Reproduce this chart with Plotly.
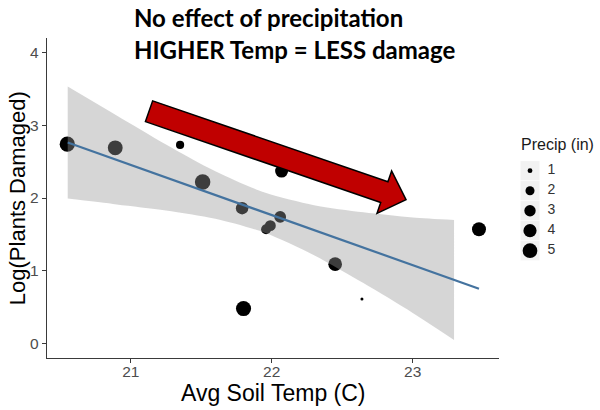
import numpy as np
import plotly.graph_objects as go

# Observations: average soil temperature, log plants damaged, precipitation
soil_temp = [20.55, 20.89, 21.35, 21.51, 21.79, 22.07, 22.06, 21.99, 21.96, 21.80, 22.45, 22.64, 23.47]
log_damaged = [2.74, 2.69, 2.73, 2.22, 1.86, 2.37, 1.74, 1.62, 1.57, 0.48, 1.09, 0.61, 1.57]
precip_in = [5.4, 5.1, 1.7, 5.6, 3.6, 3.9, 3.2, 2.8, 2.4, 5.3, 4.3, 0.9, 4.5]

# Linear fit and its confidence band
fit_temp = [20.553, 23.47]
fit_log = [2.762, 0.753]
band_temp = [20.553, 20.9, 21.25, 21.6, 21.95, 22.3, 22.65, 23.0, 23.293]
band_upper = [3.532, 3.134, 2.735, 2.367, 2.075, 1.902, 1.804, 1.732, 1.699]
band_lower = [1.992, 1.912, 1.829, 1.715, 1.523, 1.214, 0.830, 0.420, 0.049]

# Size legend
legend_breaks = [1, 2, 3, 4, 5]

x_ticks = [21, 22, 23]
y_ticks = [0, 1, 2, 3, 4]

D_MIN, D_MAX = 3.0, 15.5
p_lo, p_hi = min(precip_in), max(precip_in)


def marker_px(v):
    v = np.asarray(v, dtype=float)
    return D_MIN + (D_MAX - D_MIN) * np.sqrt((v - p_lo) / (p_hi - p_lo))


AXIS_COLOR = "#3a3a3a"
SANS = "Liberation Sans, Arial, sans-serif"
TICK_FONT = dict(family=SANS, size=15.5, color="#4d4d4d")
TITLE_FONT = dict(family=SANS, size=23, color="#000000")

fig = go.Figure()

# points
fig.add_trace(go.Scatter(
    x=soil_temp, y=log_damaged, mode="markers",
    marker=dict(size=marker_px(precip_in), color="black", opacity=1, line=dict(width=0)),
    showlegend=False, hoverinfo="skip", cliponaxis=False,
))

# confidence band (drawn over the points)
fig.add_trace(go.Scatter(
    x=band_temp, y=band_lower, mode="lines",
    line=dict(width=0, shape="spline", smoothing=0.8),
    showlegend=False, hoverinfo="skip",
))
fig.add_trace(go.Scatter(
    x=band_temp, y=band_upper, mode="lines", fill="tonexty",
    fillcolor="rgba(153,153,153,0.4)",
    line=dict(width=0, shape="spline", smoothing=0.8),
    showlegend=False, hoverinfo="skip",
))

# fitted line
fig.add_trace(go.Scatter(
    x=fit_temp, y=fit_log, mode="lines",
    line=dict(color="#44739f", width=2.2),
    showlegend=False, hoverinfo="skip",
))

# size legend on its own small axes
fig.add_trace(go.Scatter(
    x=[18] * len(legend_breaks), y=legend_breaks, mode="markers",
    marker=dict(size=marker_px(legend_breaks), color="black", opacity=1, line=dict(width=0)),
    xaxis="x2", yaxis="y2", showlegend=False, hoverinfo="skip", cliponaxis=False,
))
fig.add_trace(go.Scatter(
    x=[35.5] * len(legend_breaks), y=legend_breaks, mode="text",
    text=[str(b) for b in legend_breaks], textposition="middle right",
    textfont=dict(family=SANS, size=14, color="#333333"),
    xaxis="x2", yaxis="y2", showlegend=False, hoverinfo="skip", cliponaxis=False,
))

shapes = []
for b in legend_breaks:
    shapes.append(dict(type="rect", xref="x2", yref="y2", x0=8.5, x1=27.5,
                       y0=b - 0.48, y1=b + 0.48, fillcolor="#f2f2f2",
                       line=dict(width=0), layer="below"))

# red arrow overlay
arrow = [(21.1553, 3.3356), (22.8241, 2.2233), (22.8504, 2.3726), (22.9525, 1.9781),
         (22.7468, 1.7890), (22.7730, 1.9384), (21.1043, 3.0507)]
path = "M " + " L ".join(f"{x},{y}" for x, y in arrow) + " Z"
shapes.append(dict(type="path", xref="x", yref="y", path=path,
                   fillcolor="#c00000", line=dict(color="black", width=1.5),
                   layer="above"))

HEAD_FONT = dict(family="Lato, sans-serif", size=24, color="black")
annotations = [
    dict(text="<b>No effect of precipitation</b>", xref="paper", yref="paper",
         x=0.1537, y=1.0634, xanchor="left", yanchor="middle", showarrow=False,
         font=HEAD_FONT),
    dict(text="<b>HIGHER Temp = LESS damage</b>", xref="paper", yref="paper",
         x=0.1537, y=0.9634, xanchor="left", yanchor="middle", showarrow=False,
         font=HEAD_FONT),
    dict(text="Avg Soil Temp (C)", xref="x domain", yref="y domain",
         x=0.5, y=-0.108, xanchor="center", yanchor="middle", showarrow=False,
         font=TITLE_FONT),
    dict(text="Log(Plants Damaged)", xref="x domain", yref="y domain",
         x=-0.066, y=0.5, xanchor="center", yanchor="middle", showarrow=False,
         textangle=-90, font=dict(family=SANS, size=22, color="#000000")),
    dict(text="Precip (in)", xref="x2", yref="y2", x=6.5, y=-0.3,
         xanchor="left", yanchor="middle", showarrow=False,
         font=dict(family=SANS, size=16, color="#1a1a1a")),
]

plot_w = 600 - 47
fig.update_layout(
    width=600, height=410, autosize=False,
    margin=dict(l=47, r=0, t=38, b=52, pad=0),
    paper_bgcolor="white", plot_bgcolor="white",
    shapes=shapes, annotations=annotations,
    xaxis=dict(domain=[0, 452 / plot_w], range=[20.406, 23.612],
               tickvals=x_ticks, ticks="outside", ticklen=4, tickwidth=1.2,
               tickcolor=AXIS_COLOR, showline=True, linecolor=AXIS_COLOR, linewidth=1.4,
               showgrid=False, zeroline=False, tickfont=TICK_FONT,
               ticklabelstandoff=-5),
    yaxis=dict(domain=[0, 1], range=[-0.2, 4.2], tickvals=y_ticks,
               ticks="outside", ticklen=4, tickwidth=1.2, tickcolor=AXIS_COLOR,
               showline=True, linecolor=AXIS_COLOR, linewidth=1.4,
               showgrid=False, zeroline=False, tickfont=TICK_FONT),
    xaxis2=dict(domain=[(512 - 47) / plot_w, 1], range=[0, 88], visible=False,
                anchor="y2", fixedrange=True),
    yaxis2=dict(domain=[0, 1], range=[10.365, -5.635], visible=False,
                anchor="x2", fixedrange=True),
)

fig.write_html("out.html")
